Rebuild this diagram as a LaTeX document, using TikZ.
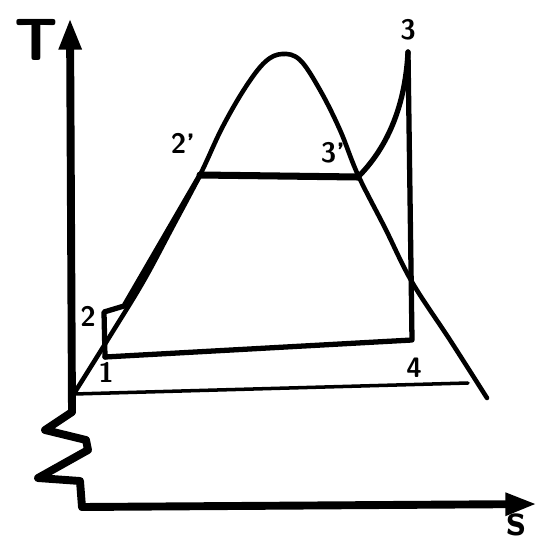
\documentclass[tikz,border=0pt]{standalone}
\usepackage{tikz}
\usetikzlibrary{arrows.meta}

\begin{document}
\begin{tikzpicture}[x=0.02cm, y=-0.02cm, >={Triangle[length=18pt,width=12pt]},
  axis/.style={line width=4.5pt, line cap=round, line join=round},
  dome/.style={line width=2.6pt, line cap=round},
  rankine/.style={line width=3pt, line cap=round, line join=round},
  thinline/.style={line width=2pt, line cap=round},
  lbl/.style={font=\sffamily\bfseries\fontsize{16}{16}\selectfont, inner sep=1pt}]
  \useasboundingbox (0,0) rectangle (539,548);

  % Axes with broken T axis
  \coordinate (ttop) at (70,18);
  \coordinate (tbot) at (72,412);
  \coordinate (sorig) at (82,507);
  \coordinate (send) at (537,504);
  \draw[axis,->] (tbot) -- (ttop);
  \draw[axis] (tbot) -- (45,430) -- (86,440) -- (88,450) -- (38,478) -- (80,481) -- (sorig);
  \draw[axis,->] (sorig) -- (send);
  \node[font=\sffamily\bfseries\fontsize{34}{34}\selectfont] (tlbl) at (36,40) {T};
  \node[font=\sffamily\bfseries\fontsize{26}{26}\selectfont, inner sep=1pt] (slbl) at (516,525) {s};

  % Saturation dome
  \draw[dome] plot[smooth, tension=0.6] coordinates {(75,392) (110,336) (143,282) (172,228)
    (200,175) (222,128) (245,88) (265,62) (282,54) (300,60) (320,90) (340,130) (358,175)
    (385,228) (412,282) (450,340) (487,398)};
  \coordinate (b0) at (74,394);
  \coordinate (b1) at (468,383);
  \draw[thinline] (b0) -- (b1);

  % Cycle state points
  \coordinate (s1) at (105,357);
  \coordinate (s2) at (104,312);
  \coordinate (s2b) at (124,306);
  \coordinate (s2p) at (200,175);
  \coordinate (s3p) at (358,177);
  \coordinate (s3) at (408,52);
  \coordinate (s4) at (412,340);

  \draw[rankine] (s1) -- (s2) -- (s2b) -- (s2p);
  \draw[rankine, line width=4pt] (s2p) -- (s3p);
  \draw[rankine] (s3p) .. controls (385,150) and (405,110) .. (s3);
  \draw[rankine] (s3) -- (s4) -- (s1);

  % State labels
  \node[lbl] (l1) at (106,372) {1};
  \node[lbl] (l2) at (88,316) {2};
  \node[lbl] (l2p) at (183,143) {2'};
  \node[lbl] (l3p) at (333,153) {3'};
  \node[lbl] (l3) at (408,30) {3};
  \node[lbl] (l4) at (414,368) {4};
\end{tikzpicture}
\end{document}
